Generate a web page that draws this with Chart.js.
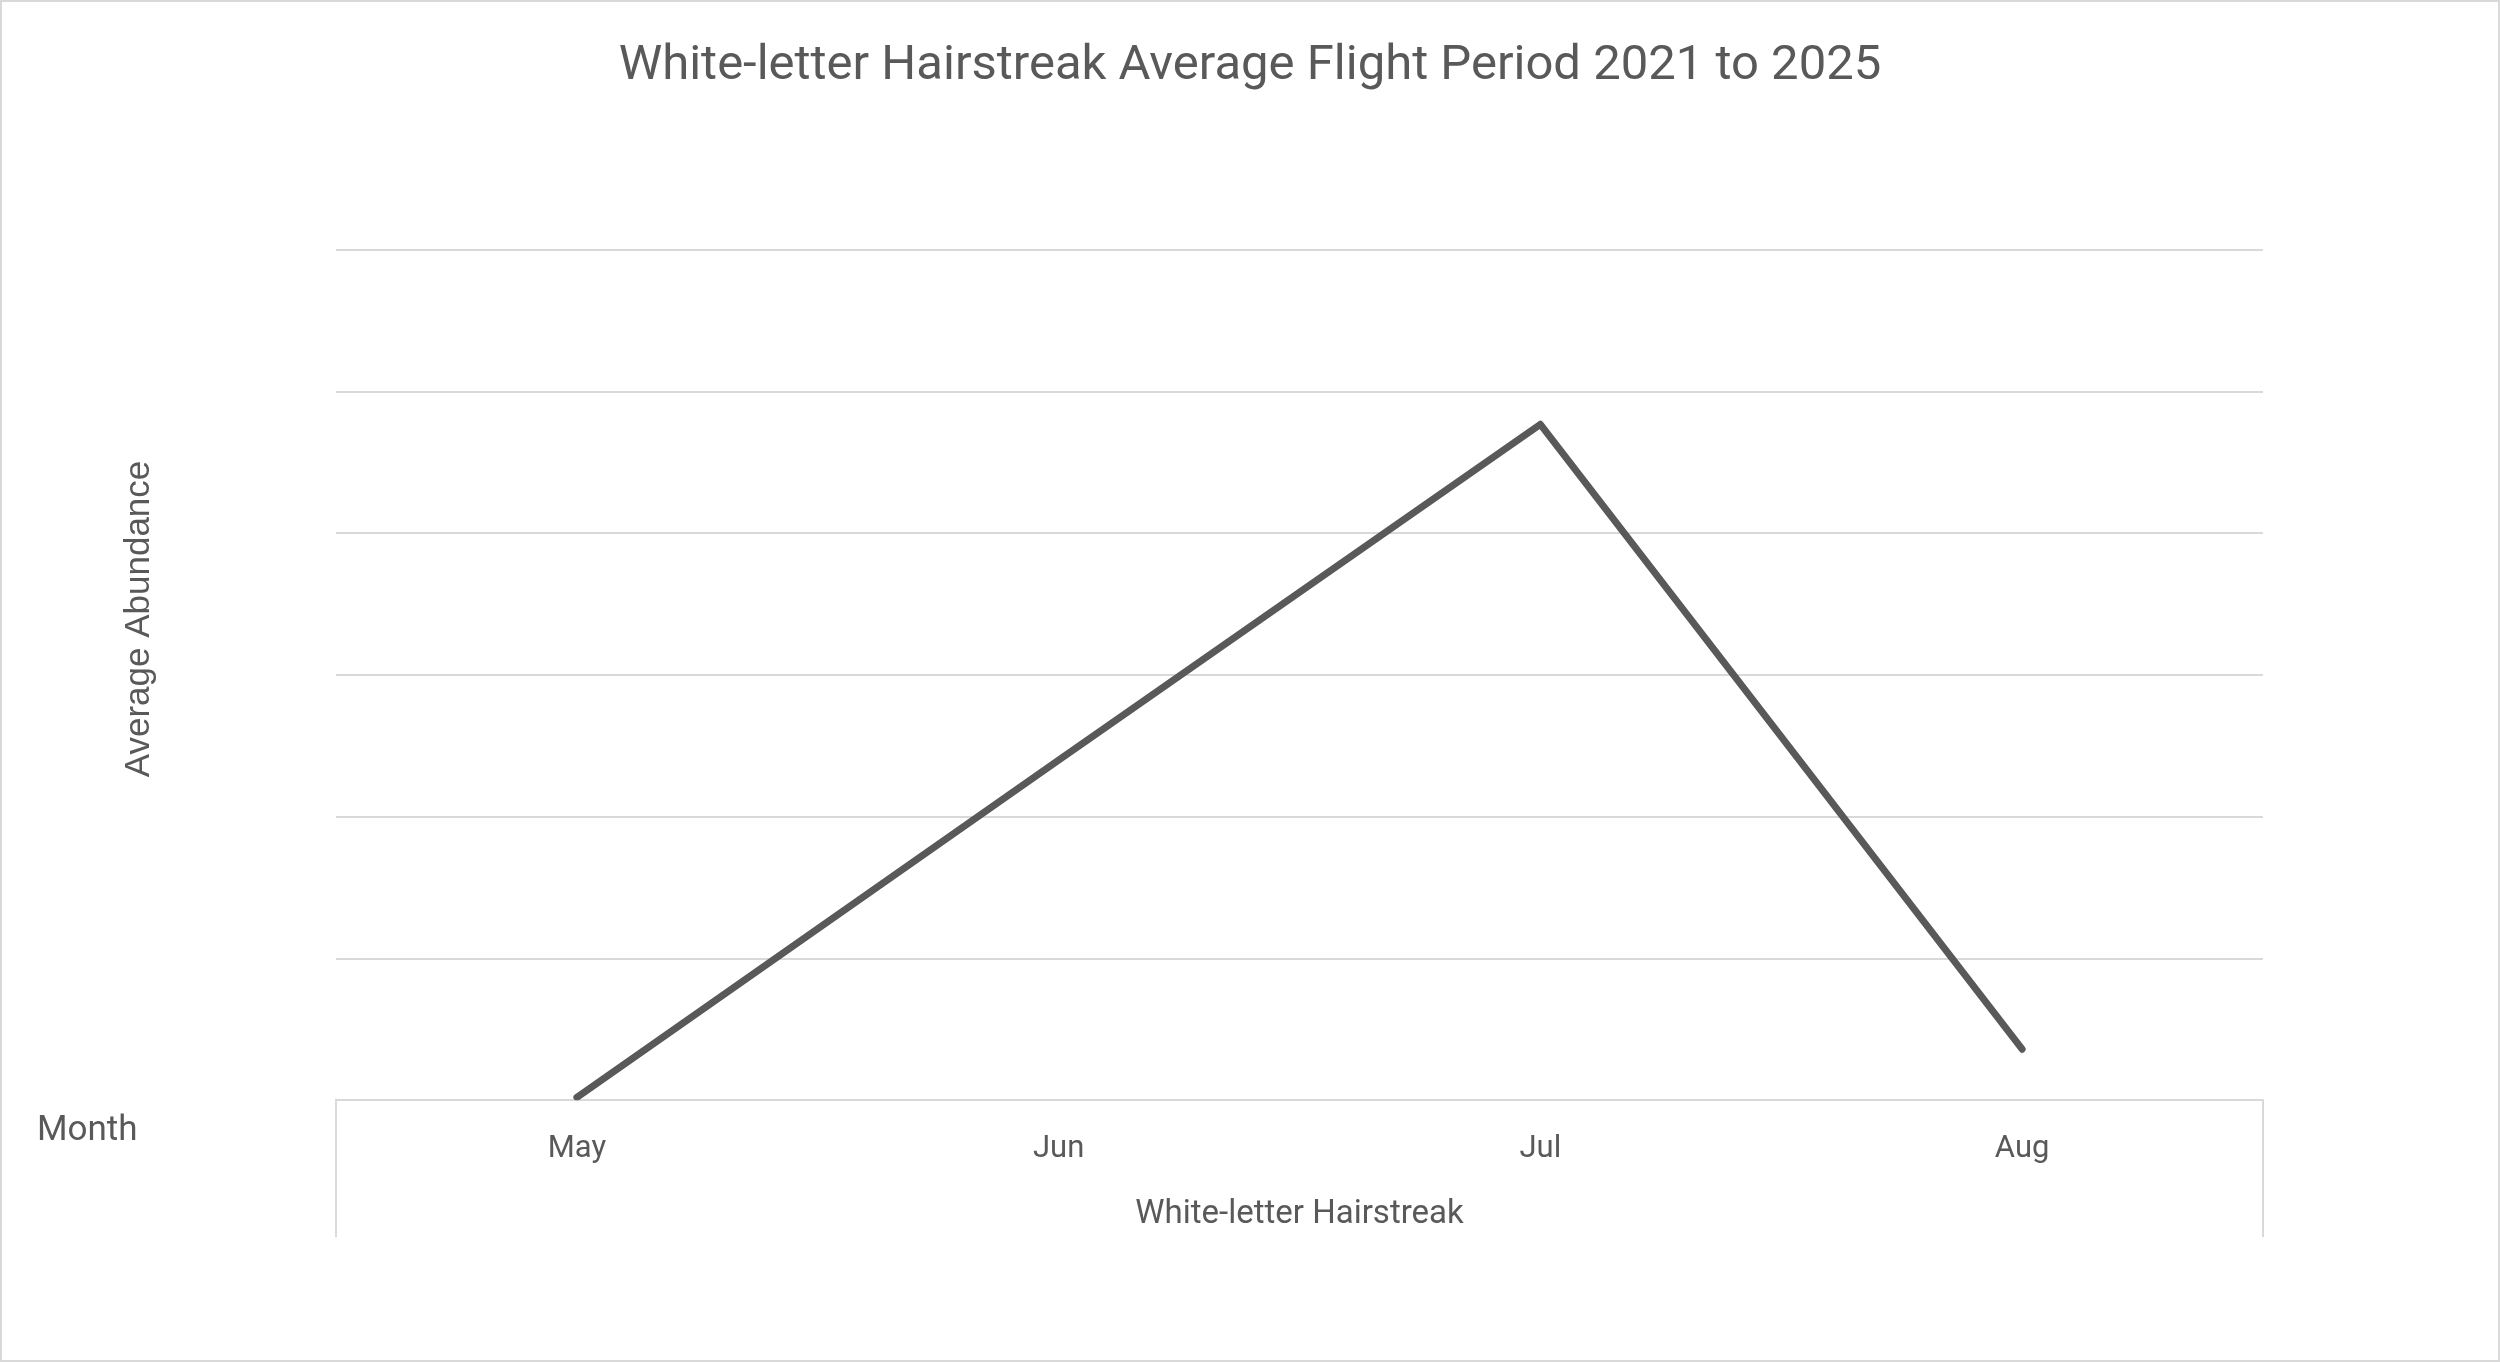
<!DOCTYPE html>
<html>
<head>
<meta charset="utf-8">
<title>White-letter Hairstreak Average Flight Period 2021 to 2025</title>
<script src="https://cdn.jsdelivr.net/npm/chart.js@4.4.1/dist/chart.umd.min.js"></script>
<style>
    html, body { margin: 0; padding: 0; background: #fff; }
    canvas { display: block; }
</style>
</head>
<body>
<canvas id="graficoVuelo" width="2500" height="1362"></canvas>
<script>
// datos
const meses = ['May', 'Jun', 'Jul', 'Aug'];
const abundancia = [0.02, 2.4, 4.77, 0.36];
const ejeYMin = 0;
const ejeYMax = 6;
const ejeYPaso = 1;

const titulo = 'White-letter Hairstreak Average Flight Period 2021 to 2025';
const grisTexto = '#595959';
const grisLinea = '#d9d9d9';

// titulo, textos fuera del eje y marco
const extras = {
    id: 'extras',
    beforeDraw(chart) {
        const c = chart.ctx;
        c.save();
        c.fillStyle = '#fff';
        c.fillRect(0, 0, chart.width, chart.height);
        c.strokeStyle = grisLinea;
        c.lineWidth = 2;
        c.strokeRect(1, 1, chart.width - 2, chart.height - 2);
        c.restore();
    },
    afterDraw(chart) {
        const c = chart.ctx;
        const area = chart.chartArea;
        c.save();
        // caja del eje de categorias
        c.strokeStyle = grisLinea;
        c.lineWidth = 2;
        c.beginPath();
        c.moveTo(area.left, area.bottom);
        c.lineTo(area.left, 1237);
        c.moveTo(area.right, area.bottom);
        c.lineTo(area.right, 1237);
        c.stroke();

        c.fillStyle = grisTexto;
        c.textBaseline = 'middle';

        // titulo centrado en todo el lienzo
        c.font = '49px Roboto';
        c.textAlign = 'center';
        c.fillText(titulo, chart.width / 2, 67);

        // boton de campo
        c.font = '35px Roboto';
        c.textAlign = 'left';
        c.fillText('Month', 37, 1131);

        // titulo eje y
        c.translate(139, 619);
        c.rotate(-Math.PI / 2);
        c.font = '35px "Liberation Sans"';
        c.textAlign = 'center';
        c.fillText('Average Abundance', 0, 0);
        c.restore();
    }
};

const ctx = document.getElementById('graficoVuelo');

new Chart(ctx, {
    type: 'line',
    data: {
        labels: meses,
        datasets: [{
            label: 'White-letter Hairstreak',
            data: abundancia,
            borderColor: grisTexto,
            borderWidth: 7,
            borderCapStyle: 'round',
            borderJoinStyle: 'round',
            pointRadius: 0,
            tension: 0,
            fill: false
        }]
    },
    options: {
        responsive: false,
        animation: false,
        layout: {
            padding: { left: 336, right: 237, top: 250, bottom: 127 }
        },
        plugins: {
            legend: { display: false },
            tooltip: { enabled: false },
            title: { display: false }
        },
        scales: {
            x: {
                offset: true,
                grid: { display: false },
                border: { display: true, color: grisLinea, width: 2 },
                ticks: {
                    color: grisTexto,
                    font: { family: 'Roboto', size: 31 },
                    padding: 22,
                    maxRotation: 0
                },
                title: {
                    display: true,
                    text: 'White-letter Hairstreak',
                    color: grisTexto,
                    font: { family: 'Roboto', size: 33 },
                    padding: { top: 6, bottom: 0 }
                }
            },
            y: {
                min: ejeYMin,
                max: ejeYMax,
                ticks: { display: false, stepSize: ejeYPaso },
                border: { display: false },
                grid: { color: grisLinea, lineWidth: 2, drawTicks: false }
            }
        }
    },
    plugins: [extras]
});
</script>
</body>
</html>
